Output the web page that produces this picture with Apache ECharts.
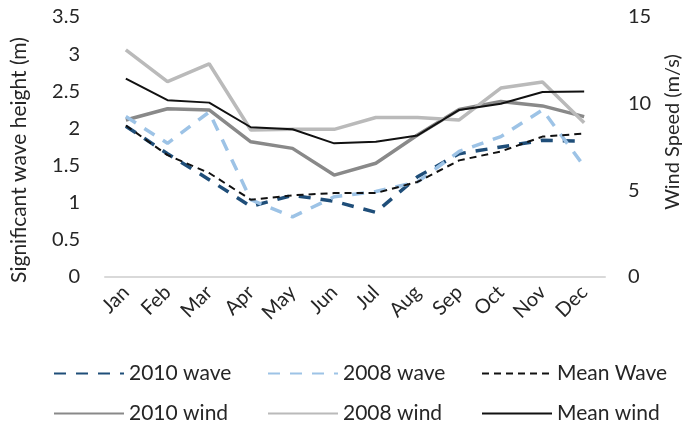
<!DOCTYPE html>
<html>
<head>
<meta charset="utf-8">
<script src="https://cdn.jsdelivr.net/npm/echarts@6/dist/echarts.min.js"></script>
<style>
  html, body { margin: 0; padding: 0; background: #fff; }
  #chart { width: 693px; height: 425px; }
</style>
</head>
<body>
<div id="chart"></div>
<script>
// months on the category axis
var months = ['Jan', 'Feb', 'Mar', 'Apr', 'May', 'Jun', 'Jul', 'Aug', 'Sep', 'Oct', 'Nov', 'Dec'];

// significant wave height (m), left axis
var wave2010 = [2.03, 1.66, 1.31, 0.95, 1.10, 1.02, 0.87, 1.35, 1.66, 1.75, 1.84, 1.83];
var wave2008 = [2.16, 1.80, 2.22, 1.04, 0.81, 1.08, 1.15, 1.28, 1.69, 1.89, 2.25, 1.49];
var waveMean = [2.04, 1.64, 1.40, 1.04, 1.10, 1.13, 1.13, 1.28, 1.57, 1.69, 1.89, 1.93];

// wind speed (m/s), right axis
var wind2010 = [9.06, 9.71, 9.64, 7.80, 7.42, 5.88, 6.56, 8.19, 9.67, 10.13, 9.87, 9.25];
var wind2008 = [13.1, 11.27, 12.3, 8.48, 8.52, 8.52, 9.2, 9.2, 9.06, 10.9, 11.25, 8.9];
var windMean = [11.44, 10.2, 10.06, 8.64, 8.52, 7.71, 7.8, 8.17, 9.64, 10.0, 10.67, 10.7];

var font = 'Lato';
var textColor = '#262626';

var chart = echarts.init(document.getElementById('chart'));

function makeLine(name, data, axis, color, width, type) {
  return {
    name: name,
    type: 'line',
    yAxisIndex: axis,
    data: data,
    symbol: 'none',
    animation: false,
    lineStyle: { color: color, width: width, type: type },
    itemStyle: { color: color }
  };
}

var series = [
  makeLine('2010 wind', wind2010, 1, '#898989', 3.5, 'solid'),
  makeLine('2008 wind', wind2008, 1, '#bababa', 3.5, 'solid'),
  makeLine('Mean wind', windMean, 1, '#111111', 2, 'solid'),
  makeLine('2010 wave', wave2010, 0, '#1f4e79', 3.5, [12, 10]),
  makeLine('2008 wave', wave2008, 0, '#9dc3e6', 3.5, [12, 10]),
  makeLine('Mean Wave', waveMean, 0, '#111111', 2, [7, 5])
];

// one legend per entry so the columns line up like the original
var legendSlots = [
  { name: '2010 wave', left: 48, top: 358 },
  { name: '2008 wave', left: 262, top: 358 },
  { name: 'Mean Wave', left: 476, top: 358 },
  { name: '2010 wind', left: 48, top: 398 },
  { name: '2008 wind', left: 262, top: 398 },
  { name: 'Mean wind', left: 476, top: 398 }
];

var option = {
  backgroundColor: '#ffffff',
  textStyle: { fontFamily: font },
  grid: { left: 105, right: 88, top: 17, bottom: 148 },
  legend: legendSlots.map(function (s) {
    return {
      data: [s.name],
      left: s.left,
      top: s.top,
      itemWidth: 70,
      itemHeight: 20,
      itemGap: 6,
      itemStyle: { opacity: 0 },
      textStyle: { fontFamily: font, fontSize: 21, color: textColor },
      selectedMode: false
    };
  }),
  xAxis: {
    type: 'category',
    data: months,
    boundaryGap: true,
    axisLine: { lineStyle: { color: '#d9d9d9', width: 2 } },
    axisTick: { show: false },
    axisLabel: { rotate: 45, margin: 12, fontSize: 20, color: textColor, fontFamily: font }
  },
  yAxis: [
    {
      type: 'value',
      min: 0,
      max: 3.5,
      interval: 0.5,
      name: 'Significant wave height (m)',
      nameLocation: 'middle',
      nameRotate: 90,
      nameGap: 75,
      nameTextStyle: { fontSize: 21, color: textColor, fontFamily: font, padding: [0, 26, 0, 0] },
      splitLine: { show: false },
      axisLine: { show: false },
      axisTick: { show: false },
      axisLabel: { margin: 25, fontSize: 20, color: textColor, fontFamily: font }
    },
    {
      type: 'value',
      min: 0,
      max: 15,
      interval: 5,
      position: 'right',
      name: 'Wind Speed (m/s)',
      nameLocation: 'middle',
      nameRotate: 90,
      nameGap: 54,
      nameTextStyle: { fontSize: 20, color: textColor, fontFamily: font, padding: [0, 0, 0, 30] },
      splitLine: { show: false },
      axisLine: { show: false },
      axisTick: { show: false },
      axisLabel: { margin: 23, fontSize: 20, color: textColor, fontFamily: font }
    }
  ],
  series: series
};

chart.setOption(option);
window.addEventListener('resize', function () {
  chart.resize();
});
</script>
</body>
</html>
